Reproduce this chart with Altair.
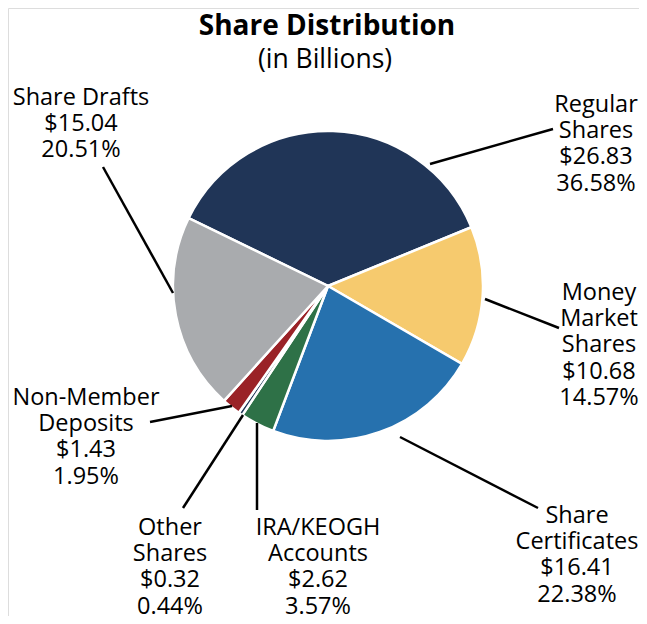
import altair as alt
import pandas as pd

# ---- data ----
categories = ["Regular Shares", "Money Market Shares", "Share Certificates",
              "IRA/KEOGH Accounts", "Other Shares", "Non-Member Deposits", "Share Drafts"]
display_names = ["Regular\nShares", "Money\nMarket\nShares", "Share\nCertificates",
                 "IRA/KEOGH\nAccounts", "Other\nShares", "Non-Member\nDeposits", "Share Drafts"]
values = [26.83, 10.68, 16.41, 2.62, 0.32, 1.43, 15.04]
percents = [36.58, 14.57, 22.38, 3.57, 0.44, 1.95, 20.51]
colors = ["#203557", "#f6ca6e", "#2671ae", "#2e7147", "#203557", "#9a2227", "#a9abae"]

# ---- layout (page pixel coordinates) ----
label_x = [596, 599, 577, 318, 170, 86, 81]
label_y = [112, 300, 523, 535, 535, 405, 105]
lead_x1 = [430, 485, 400, 257, 243, 232, 173]
lead_y1 = [164, 299, 437, 423, 415, 406, 293]
lead_x2 = [553, 559, 538, 257, 183, 150, 103]
lead_y2 = [129, 328, 508, 510, 508, 422, 167]

W, H = 631, 608
CX, CY, R = 328, 286, 155
FONT = "Open Sans"

df = pd.DataFrame({
    "category": categories,
    "order": list(range(len(categories))),
    "value": values,
    "label": [f"{n}\n${v:.2f}\n{p:.2f}%" for n, v, p in zip(display_names, values, percents)],
    "lx": label_x, "ly": label_y,
    "x1": lead_x1, "y1": lead_y1, "x2": lead_x2, "y2": lead_y2,
})

PI = 3.141592653589793
start = -64 * PI / 180
pie = alt.Chart(df).mark_arc(outerRadius=R, stroke="white", strokeWidth=2.5).encode(
    theta=alt.Theta("value:Q", stack=True,
                    scale=alt.Scale(range=[start, start + 2 * PI])),
    order=alt.Order("order:Q"),
    color=alt.Color("category:N", scale=alt.Scale(domain=categories, range=colors), legend=None),
    x=alt.value(CX - 8),
    y=alt.value(CY - 8),
)

xs = alt.Scale(domain=[8, 8 + W])
ys = alt.Scale(domain=[8, 8 + H], reverse=True)

leaders = alt.Chart(df).mark_rule(color="black", strokeWidth=2.5).encode(
    x=alt.X("x1:Q", scale=xs, axis=None),
    y=alt.Y("y1:Q", scale=ys, axis=None),
    x2="x2:Q",
    y2="y2:Q",
)

labels = alt.Chart(df).mark_text(font=FONT, fontSize=23.5, lineHeight=26.2, lineBreak="\n",
                                 align="center", baseline="alphabetic", color="black").encode(
    x=alt.X("lx:Q", scale=xs, axis=None),
    y=alt.Y("ly:Q", scale=ys, axis=None),
    text="label:N",
)

title_df = pd.DataFrame({
    "text": ["Share Distribution", "(in Billions)"],
    "tx": [327, 325],
    "ty": [35, 68],
})
title_bold = alt.Chart(title_df.iloc[[0]]).mark_text(font=FONT, fontSize=28, fontWeight="bold",
                                                      align="center", baseline="alphabetic", color="black").encode(
    x=alt.X("tx:Q", scale=xs, axis=None), y=alt.Y("ty:Q", scale=ys, axis=None), text="text:N")
title_sub = alt.Chart(title_df.iloc[[1]]).mark_text(font=FONT, fontSize=26.5,
                                                     align="center", baseline="alphabetic", color="black").encode(
    x=alt.X("tx:Q", scale=xs, axis=None), y=alt.Y("ty:Q", scale=ys, axis=None), text="text:N")

chart = alt.layer(pie, leaders, labels, title_bold, title_sub).properties(
    width=W, height=H, padding=0, autosize=alt.AutoSizeParams(type="none")
).configure_view(stroke="transparent", strokeWidth=0).configure(background="white")

chart.save("out.html", embed_options={"renderer": "svg", "actions": False})
